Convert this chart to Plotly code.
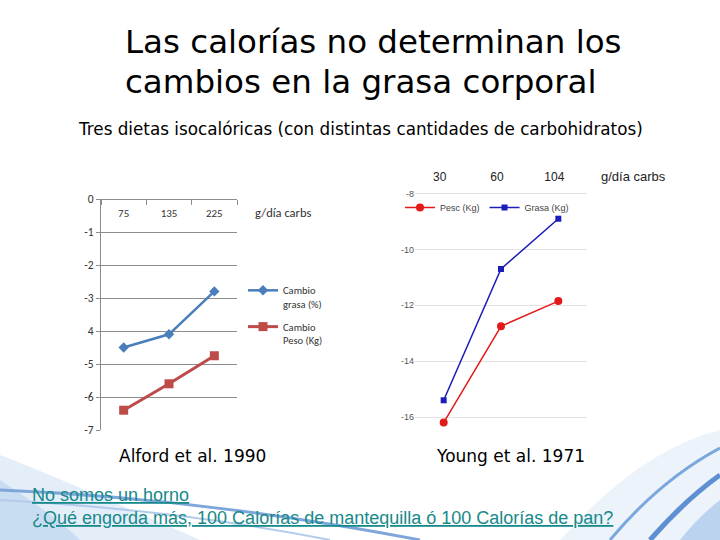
import plotly.graph_objects as go

# ---- Data ----
alford_carbs = ["75", "135", "225"]
alford_grasa = [-4.5, -4.1, -2.8]
alford_peso = [-6.4, -5.6, -4.75]
alford_yticks = [0, -1, -2, -3, -4, -5, -6, -7]
alford_yticklabels = ["0", "-1", "-2", "-3", "4", "-5", "-6", "-7"]

young_carbs = ["30", "60", "104"]
young_peso = [-16.2, -12.75, -11.85]
young_grasa = [-15.4, -10.7, -8.9]
young_yticks = [-16, -14, -12, -10, -8]
young_yticklabels = ["-16", "-14", "-12", "-10", "-8"]

W, H = 720, 540


def px(x):
    return x / W


def py(y):
    return 1 - y / H


fig = go.Figure()

# Left chart (Alford)
fig.add_trace(go.Scatter(
    x=alford_carbs, y=alford_grasa, name="Cambio<br>grasa (%)", legendgroup="a1",
    mode="lines+markers", line=dict(color="#4a7ebb", width=2.5),
    marker=dict(symbol="diamond", size=8, color="#4a7ebb"),
    xaxis="x", yaxis="y", legend="legend"))
fig.add_trace(go.Scatter(
    x=alford_carbs, y=alford_peso, name="Cambio<br>Peso (Kg)", legendgroup="a2",
    mode="lines+markers", line=dict(color="#be4b48", width=3),
    marker=dict(symbol="square", size=9, color="#be4b48"),
    xaxis="x", yaxis="y", legend="legend"))

# Right chart (Young)
fig.add_trace(go.Scatter(
    x=young_carbs, y=young_peso, name="Pesc (Kg)",
    mode="lines+markers", line=dict(color="#e31a1a", width=1.5),
    marker=dict(symbol="circle", size=8, color="#e31a1a"),
    xaxis="x2", yaxis="y2", legend="legend2"))
fig.add_trace(go.Scatter(
    x=young_carbs, y=young_grasa, name="Grasa (Kg)",
    mode="lines+markers", line=dict(color="#1c1cb8", width=1.5),
    marker=dict(symbol="square", size=6, color="#1c1cb8"),
    xaxis="x2", yaxis="y2", legend="legend2"))

shapes = [
    # bottom-left swoosh
    dict(type="path", xref="paper", yref="paper", layer="below",
         path=f"M 0,{py(455)} C {px(40)},{py(470)} {px(120)},{py(505)} {px(200)},{py(540)} L 0,{py(540)} Z",
         fillcolor="rgba(175,205,238,0.35)", line=dict(width=0)),
    dict(type="path", xref="paper", yref="paper", layer="below",
         path=f"M 0,{py(480)} C {px(30)},{py(500)} {px(60)},{py(520)} {px(80)},{py(540)} L 0,{py(540)} Z",
         fillcolor="rgba(150,185,230,0.35)", line=dict(width=0)),
    dict(type="path", xref="paper", yref="paper", layer="below",
         path=f"M 0,{py(490)} Q {px(200)},{py(498)} {px(420)},{py(540)}",
         line=dict(color="#7ea6da", width=3)),
    dict(type="path", xref="paper", yref="paper", layer="below",
         path=f"M 0,{py(500)} Q {px(180)},{py(510)} {px(330)},{py(540)}",
         line=dict(color="#b3cbea", width=2)),
    # bottom-right swoosh
    dict(type="path", xref="paper", yref="paper", layer="below",
         path=f"M {px(560)},{py(540)} Q {px(640)},{py(450)} {px(720)},{py(430)} L {px(720)},{py(540)} Z",
         fillcolor="rgba(200,220,242,0.35)", line=dict(width=0)),
    dict(type="path", xref="paper", yref="paper", layer="below",
         path=f"M {px(610)},{py(540)} Q {px(660)},{py(480)} {px(720)},{py(448)}",
         line=dict(color="#7aa7de", width=3)),
    dict(type="path", xref="paper", yref="paper", layer="below",
         path=f"M {px(650)},{py(540)} Q {px(685)},{py(500)} {px(720)},{py(475)}",
         line=dict(color="#5d8fd2", width=5)),
    dict(type="path", xref="paper", yref="paper", layer="below",
         path=f"M {px(680)},{py(540)} Q {px(700)},{py(515)} {px(720)},{py(500)} L {px(720)},{py(540)} Z",
         fillcolor="rgba(140,180,230,0.5)", line=dict(width=0)),
]

title_font = "DejaVu Sans, Noto Sans, sans-serif"
annotations = [
    dict(text="Las calorías no determinan los", x=px(123), y=py(42), xanchor="left", yanchor="middle",
         font=dict(size=32.5, color="#000", family=title_font)),
    dict(text="cambios en la grasa corporal", x=px(123), y=py(82), xanchor="left", yanchor="middle",
         font=dict(size=32.5, color="#000", family=title_font)),
    dict(text="Tres dietas isocalóricas (con distintas cantidades de carbohidratos)", x=px(76), y=py(129),
         xanchor="left", yanchor="middle", font=dict(size=16.8, color="#000", family=title_font)),
    dict(text="g/día carbs", x=px(253), y=py(213), xanchor="left", yanchor="middle",
         font=dict(size=12.5, color="#333", family="Carlito, Liberation Sans, sans-serif")),
    dict(text="g/día carbs", x=px(599), y=py(176), xanchor="left", yanchor="middle",
         font=dict(size=13, color="#222", family="Liberation Sans, Arial, sans-serif")),
    dict(text="Alford et al. 1990", x=px(117), y=py(456), xanchor="left", yanchor="middle",
         font=dict(size=17, color="#000", family=title_font)),
    dict(text="Young et al. 1971", x=px(434), y=py(456), xanchor="left", yanchor="middle",
         font=dict(size=17, color="#000", family=title_font)),
    dict(text="<u>No somos un horno</u>", x=px(30), y=py(495), xanchor="left", yanchor="middle",
         font=dict(size=18, color="#17898a", family="Liberation Sans, Arial, sans-serif")),
    dict(text="<u>¿Qué engorda más, 100 Calorías de mantequilla ó 100 Calorías de pan?</u>", x=px(30), y=py(518),
         xanchor="left", yanchor="middle",
         font=dict(size=18, color="#17898a", family="Liberation Sans, Arial, sans-serif")),
]
for a in annotations:
    a.update(xref="paper", yref="paper", showarrow=False)

fig.update_layout(
    width=W, height=H,
    margin=dict(l=0, r=0, t=0, b=0, pad=0, autoexpand=False),
    paper_bgcolor="white", plot_bgcolor="rgba(0,0,0,0)",
    showlegend=True,
    shapes=shapes,
    annotations=annotations,
    xaxis=dict(domain=[px(101), px(237)], anchor="free", position=py(199), side="bottom",
               type="category", categoryorder="array", categoryarray=alford_carbs, automargin=False,
               range=[-0.5, 2.5], showline=True, linecolor="#8c8c8c",
               ticks="outside", tickson="boundaries", ticklen=5, tickcolor="#8c8c8c",
               ticklabelstandoff=4, showgrid=False,
               tickfont=dict(size=11, color="#333", family="Carlito, Liberation Sans, sans-serif")),
    yaxis=dict(domain=[py(430), py(199)], anchor="x", range=[-7, 0], automargin=False,
               tickvals=alford_yticks, ticktext=alford_yticklabels,
               showgrid=True, gridcolor="#8c8c8c", gridwidth=1, zeroline=False,
               showline=True, linecolor="#8c8c8c", ticks="outside", ticklen=4, tickcolor="#8c8c8c",
               tickfont=dict(size=11.5, color="#333", family="Carlito, Liberation Sans, sans-serif")),
    xaxis2=dict(domain=[px(415), px(587)], anchor="y2", type="category", automargin=False,
                categoryorder="array", categoryarray=young_carbs,
                range=[-0.5, 2.5], side="top", showline=False, showgrid=False, ticks="",
                ticklabelstandoff=4, ticklabelshift=-4,
                tickfont=dict(size=12, color="#222", family="Liberation Sans, Arial, sans-serif")),
    yaxis2=dict(domain=[py(431), py(188)], anchor="x2", range=[-16.5, -7.8], automargin=False,
                tickvals=young_yticks, ticktext=young_yticklabels,
                showgrid=True, gridcolor="#e2e2e2", zeroline=False,
                showline=False, ticks="",
                tickfont=dict(size=9, color="#555", family="Liberation Sans, Arial, sans-serif")),
    legend=dict(x=px(243), y=py(277), xanchor="left", yanchor="top", valign="top",
                bgcolor="rgba(0,0,0,0)", tracegroupgap=6, itemwidth=30,
                font=dict(size=10.5, color="#333", family="Carlito, Liberation Sans, sans-serif")),
    legend2=dict(x=px(400), y=py(193), xanchor="left", yanchor="top", orientation="h",
                 bgcolor="rgba(0,0,0,0)", itemwidth=30,
                 font=dict(size=9, color="#444", family="Liberation Sans, Arial, sans-serif")),
)

fig.write_html("out.html", config={"displayModeBar": False},
               post_script="document.body.style.margin='0';")
